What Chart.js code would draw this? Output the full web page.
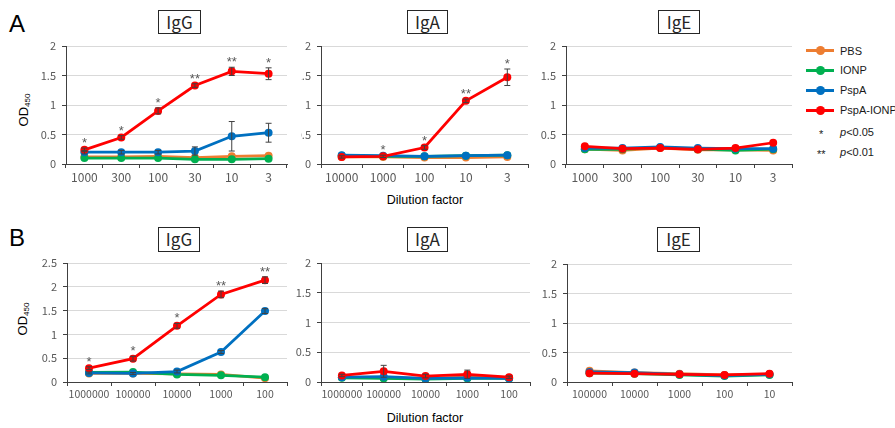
<!DOCTYPE html>
<html>
<head>
<meta charset="utf-8">
<script src="https://cdn.jsdelivr.net/npm/chart.js@4.4.1/dist/chart.umd.min.js"></script>
<style>
  body { margin: 0; background: #fff; }
  #fig { position: relative; width: 895px; height: 428px; overflow: hidden; background: #fff; font-family: "Liberation Sans", Arial, sans-serif; }
  #fig canvas { position: absolute; }
  .title { position: absolute; box-sizing: border-box; border: 1px solid #262626; width: 43px; height: 24px; text-align: center; font: 17px/22px "Noto Sans CJK JP", sans-serif; color: #262626; }
  .letter { position: absolute; font-size: 24px; line-height: 24px; color: #000; }
  .od { position: absolute; width: 60px; height: 16px; line-height: 16px; text-align: center; font-size: 13px; transform: rotate(-90deg); color: #000; }
  .od sub { font-size: 8px; vertical-align: -2px; }
  .dil { position: absolute; left: 365px; width: 120px; text-align: center; font-size: 12.5px; line-height: 14px; color: #000; }
  .leg { position: absolute; font-size: 11px; line-height: 14px; color: #1a1a1a; white-space: nowrap; }
  .sw { position: absolute; left: 806px; width: 28px; height: 3px; }
  .sw i { position: absolute; left: 10px; top: -3px; width: 9px; height: 9px; border-radius: 50%; background: inherit; }
</style>
</head>
<body>
<div id="fig">
  <div class="letter" style="left:9px;top:12px">A</div>
  <div class="letter" style="left:9px;top:226px">B</div>

  <div class="title" style="left:158px;top:10px">IgG</div>
  <div class="title" style="left:407px;top:10px;width:41px">IgA</div>
  <div class="title" style="left:658px;top:10px;width:42px">IgE</div>
  <div class="title" style="left:158px;top:227px;width:42px;height:25px">IgG</div>
  <div class="title" style="left:407px;top:227px;width:41px;height:25px">IgA</div>
  <div class="title" style="left:657px;top:227px;height:25px">IgE</div>

  <div class="od" style="left:-6px;top:102px">OD<sub>450</sub></div>
  <div class="od" style="left:-7px;top:311px">OD<sub>450</sub></div>

  <div class="dil" style="top:193px">Dilution factor</div>
  <div class="dil" style="top:411px">Dilution factor</div>

  <canvas id="aIgG"></canvas>
  <canvas id="aIgA"></canvas>
  <canvas id="aIgE"></canvas>
  <canvas id="bIgG"></canvas>
  <canvas id="bIgA"></canvas>
  <canvas id="bIgE"></canvas>

  <div id="legend"></div>
</div>

<script>
const seriesNames = ["PBS", "IONP", "PspA", "PspA-IONP"];
const seriesColors = ["#ED7D31", "#00B050", "#0070C0", "#FF0000"];

// A, IgG
const aIgGLabels = ["1000", "300", "100", "30", "10", "3"];
const aIgGPBS = [0.12, 0.12, 0.13, 0.11, 0.13, 0.14];
const aIgGIONP = [0.10, 0.10, 0.10, 0.08, 0.08, 0.09];
const aIgGPspA = [0.20, 0.20, 0.20, 0.22, 0.47, 0.53];
const aIgGPspAIONP = [0.24, 0.45, 0.90, 1.33, 1.57, 1.53];
const aIgGPspAErr = [0.03, 0.03, 0.03, 0.07, 0.25, 0.16];
const aIgGPspAIONPErr = [0.03, 0.03, 0.05, 0.03, 0.07, 0.10];
const aIgGStars = ["*", "*", "*", "**", "**", "*"];

// A, IgA
const aIgALabels = ["10000", "1000", "100", "10", "3"];
const aIgAPBS = [0.12, 0.12, 0.11, 0.11, 0.12];
const aIgAIONP = [0.14, 0.13, 0.13, 0.14, 0.15];
const aIgAPspA = [0.15, 0.14, 0.13, 0.14, 0.15];
const aIgAPspAIONP = [0.12, 0.13, 0.28, 1.07, 1.47];
const aIgAPspAIONPErr = [0.02, 0.02, 0.03, 0.03, 0.14];
const aIgAStars = ["", "*", "*", "**", "*"];

// A, IgE
const aIgELabels = ["1000", "300", "100", "30", "10", "3"];
const aIgEPBS = [0.25, 0.23, 0.27, 0.24, 0.24, 0.23];
const aIgEIONP = [0.25, 0.25, 0.28, 0.25, 0.23, 0.25];
const aIgEPspA = [0.27, 0.27, 0.29, 0.27, 0.26, 0.26];
const aIgEPspAIONP = [0.30, 0.26, 0.27, 0.25, 0.27, 0.36];

// B, IgG
const bIgGLabels = ["1000000", "100000", "10000", "1000", "100"];
const bIgGPBS = [0.18, 0.18, 0.17, 0.16, 0.08];
const bIgGIONP = [0.20, 0.21, 0.16, 0.14, 0.10];
const bIgGPspA = [0.19, 0.18, 0.22, 0.63, 1.49];
const bIgGPspAIONP = [0.29, 0.49, 1.18, 1.84, 2.14];
const bIgGPspAErr = [0.02, 0.02, 0.03, 0.03, 0.05];
const bIgGPspAIONPErr = [0.03, 0.05, 0.05, 0.07, 0.07];
const bIgGStars = ["*", "*", "*", "**", "**"];

// B, IgA
const bIgALabels = ["1000000", "100000", "10000", "1000", "100"];
const bIgAPBS = [0.08, 0.07, 0.06, 0.08, 0.07];
const bIgAIONP = [0.07, 0.06, 0.05, 0.06, 0.06];
const bIgAPspA = [0.08, 0.09, 0.06, 0.07, 0.06];
const bIgAPspAIONP = [0.11, 0.18, 0.10, 0.13, 0.08];
const bIgAPspAIONPErr = [0.02, 0.10, 0.03, 0.07, 0.02];

// B, IgE
const bIgELabels = ["100000", "10000", "1000", "100", "10"];
const bIgEPBS = [0.19, 0.16, 0.14, 0.12, 0.13];
const bIgEIONP = [0.15, 0.14, 0.12, 0.10, 0.12];
const bIgEPspA = [0.17, 0.16, 0.13, 0.11, 0.13];
const bIgEPspAIONP = [0.15, 0.14, 0.13, 0.12, 0.14];

const PAD_T = 22, PAD_R = 6, X_H = 30;

// error bars, drawn from the dataset's own errors array
const errorBars = {
  id: "errorBars",
  afterDatasetsDraw(chart) {
    const ctx = chart.ctx, y = chart.scales.y;
    chart.data.datasets.forEach((ds, i) => {
      if (!ds.errors) return;
      chart.getDatasetMeta(i).data.forEach((pt, j) => {
        const e = ds.errors[j];
        if (!e) return;
        const top = y.getPixelForValue(ds.data[j] + e);
        const bot = y.getPixelForValue(ds.data[j] - e);
        ctx.save();
        ctx.strokeStyle = "#404040";
        ctx.lineWidth = 1;
        ctx.beginPath();
        ctx.moveTo(pt.x, top); ctx.lineTo(pt.x, bot);
        ctx.moveTo(pt.x - 3, top); ctx.lineTo(pt.x + 3, top);
        ctx.moveTo(pt.x - 3, bot); ctx.lineTo(pt.x + 3, bot);
        ctx.stroke();
        ctx.restore();
      });
    });
  }
};

// significance asterisks over the PspA-IONP points
const starMarks = {
  id: "starMarks",
  afterDatasetsDraw(chart) {
    const ctx = chart.ctx, y = chart.scales.y;
    chart.data.datasets.forEach((ds, i) => {
      if (!ds.stars) return;
      chart.getDatasetMeta(i).data.forEach((pt, j) => {
        const s = ds.stars[j];
        if (!s) return;
        const e = ds.errors ? ds.errors[j] : 0;
        ctx.save();
        ctx.fillStyle = "#595959";
        ctx.font = '13px "Liberation Sans", Arial, sans-serif';
        ctx.textAlign = "center";
        ctx.textBaseline = "alphabetic";
        ctx.fillText(s, pt.x, y.getPixelForValue(ds.data[j] + e) - 1);
        ctx.restore();
      });
    });
  }
};

function makeChart(id, box, labels, values, errors, stars, yMax, xFont) {
  const canvas = document.getElementById(id);
  canvas.width = box.R - box.L + box.yW + PAD_R;
  canvas.height = box.B - box.T + PAD_T + X_H;
  canvas.style.left = (box.L - box.yW) + "px";
  canvas.style.top = (box.T - PAD_T) + "px";

  const datasets = seriesNames.map((name, i) => ({
    label: name,
    data: values[i],
    errors: errors[i],
    stars: i === 3 ? stars : null,
    borderColor: seriesColors[i],
    backgroundColor: seriesColors[i],
    pointBackgroundColor: seriesColors[i],
    pointBorderColor: seriesColors[i],
    borderWidth: 2.75,
    pointRadius: 4,
    pointBorderWidth: 0,
    tension: 0,
    order: 3 - i,
  }));

  return new Chart(canvas, {
    type: "line",
    data: { labels: labels, datasets: datasets },
    options: {
      responsive: false,
      animation: false,
      devicePixelRatio: 1,
      layout: { padding: { top: PAD_T, right: PAD_R, left: 0, bottom: 0 } },
      plugins: { legend: { display: false }, tooltip: { enabled: false } },
      scales: {
        x: {
          type: "category",
          offset: true,
          grid: { offset: true, drawOnChartArea: false, tickLength: 4, tickColor: "#404040" },
          border: { color: "#404040" },
          ticks: {
            autoSkip: false, maxRotation: 0, minRotation: 0, padding: 2,
            color: "#595959",
            font: { family: '"Noto Sans CJK JP", sans-serif', size: xFont },
          },
          afterFit: (s) => { s.height = X_H; },
        },
        y: {
          min: 0,
          max: yMax,
          ticks: {
            stepSize: 0.5, padding: 6, color: "#595959",
            font: { family: '"Noto Sans CJK JP", sans-serif', size: 11 },
            callback: (v) => String(v),
          },
          grid: {
            color: (c) => (c.tick && c.tick.value === 0 ? "#404040" : "#d9d9d9"),
            tickLength: 4,
            tickColor: "#404040",
          },
          border: { color: "#404040" },
          afterFit: (s) => { s.width = box.yW; },
        },
      },
    },
    plugins: [errorBars, starMarks],
  });
}

makeChart("aIgG", { L: 66, R: 287, T: 46, B: 164, yW: 30 }, aIgGLabels,
  [aIgGPBS, aIgGIONP, aIgGPspA, aIgGPspAIONP], [null, null, aIgGPspAErr, aIgGPspAIONPErr], aIgGStars, 2, 12);
makeChart("aIgA", { L: 321, R: 528, T: 46, B: 164, yW: 20 }, aIgALabels,
  [aIgAPBS, aIgAIONP, aIgAPspA, aIgAPspAIONP], [null, null, null, aIgAPspAIONPErr], aIgAStars, 2, 12);
makeChart("aIgE", { L: 566, R: 792, T: 46, B: 164, yW: 30 }, aIgELabels,
  [aIgEPBS, aIgEIONP, aIgEPspA, aIgEPspAIONP], [null, null, null, null], null, 2, 12);
makeChart("bIgG", { L: 67, R: 287, T: 263, B: 382, yW: 30 }, bIgGLabels,
  [bIgGPBS, bIgGIONP, bIgGPspA, bIgGPspAIONP], [null, null, bIgGPspAErr, bIgGPspAIONPErr], bIgGStars, 2.5, 10.5);
makeChart("bIgA", { L: 321, R: 530, T: 263, B: 382, yW: 30 }, bIgALabels,
  [bIgAPBS, bIgAIONP, bIgAPspA, bIgAPspAIONP], [null, null, null, bIgAPspAIONPErr], null, 2, 10.5);
makeChart("bIgE", { L: 567, R: 792, T: 264, B: 382, yW: 30 }, bIgELabels,
  [bIgEPBS, bIgEIONP, bIgEPspA, bIgEPspAIONP], [null, null, null, null], null, 2, 10.5);

// legend
const legendRows = [50.5, 70, 90, 110];
let html = "";
seriesNames.forEach((name, i) => {
  html += `<div class="sw" style="top:${legendRows[i] - 1.5}px;background:${seriesColors[i]}"><i></i></div>`;
  html += `<div class="leg" style="left:840px;top:${legendRows[i] - 7}px">${name}</div>`;
});
html += `<div class="leg" style="left:819px;top:127px">*</div>`;
html += `<div class="leg" style="left:840px;top:125px"><i>p</i>&lt;0.05</div>`;
html += `<div class="leg" style="left:817px;top:147px">**</div>`;
html += `<div class="leg" style="left:840px;top:145px"><i>p</i>&lt;0.01</div>`;
document.getElementById("legend").innerHTML = html;
</script>
</body>
</html>
